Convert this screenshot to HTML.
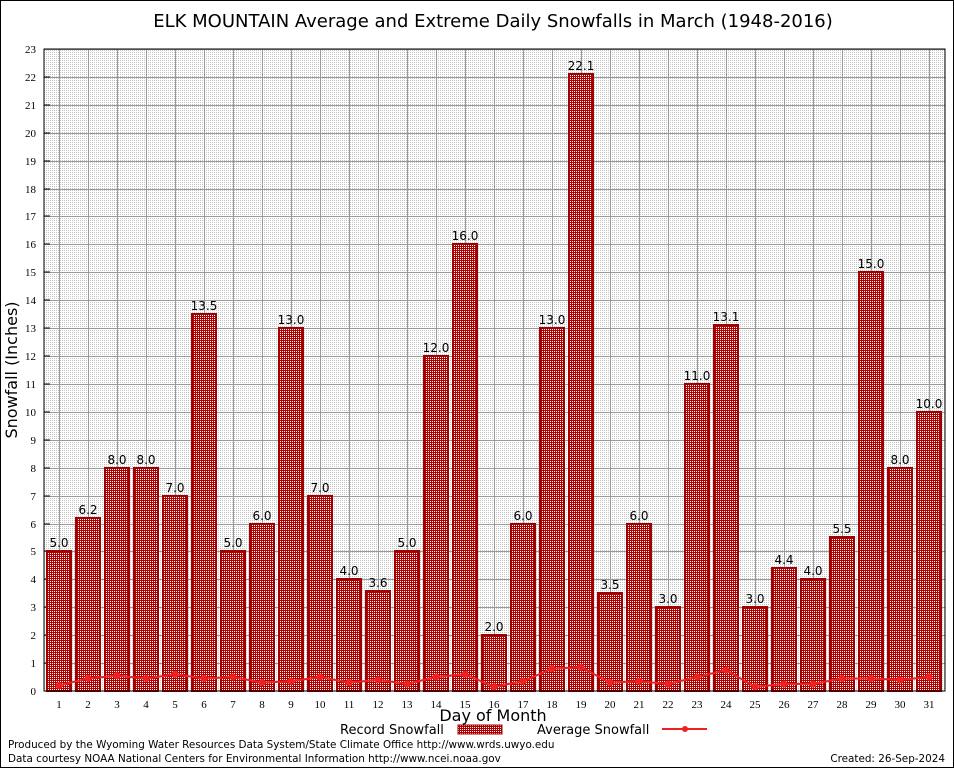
<!DOCTYPE html>
<html><head><meta charset="utf-8"><style>
body{margin:0;background:#fff;}
svg{display:block;font-family:"DejaVu Sans","Liberation Sans",sans-serif;}
</style></head><body>
<svg id="s" width="954" height="768" xmlns="http://www.w3.org/2000/svg" shape-rendering="crispEdges">
<defs>
<pattern id="bp" width="2" height="2" patternUnits="userSpaceOnUse">
<rect width="2" height="2" fill="#b00000"/><rect x="0" y="1" width="1" height="1" fill="#fff"/>
</pattern>
<pattern id="gp" width="2" height="2" patternUnits="userSpaceOnUse">
<rect width="2" height="2" fill="#fff"/><rect width="1" height="1" fill="#c4c4c4"/>
</pattern>
</defs>
<rect x="0.5" y="0.5" width="953" height="767" fill="#fff" stroke="#000"/>
<text x="493" y="27" font-size="18" text-anchor="middle">ELK MOUNTAIN Average and Extreme Daily Snowfalls in March (1948-2016)</text>
<rect x="44" y="49" width="901" height="642" fill="url(#gp)"/>
<g id="g"></g>
<rect x="44" y="49" width="901" height="642" fill="none" stroke="#000"/>
<text transform="translate(17,370) rotate(-90)" font-size="16" text-anchor="middle">Snowfall (Inches)</text>
<text x="493" y="721" font-size="16" text-anchor="middle">Day of Month</text>
<text x="340" y="734" font-size="13">Record Snowfall</text>
<rect x="458" y="725" width="44" height="9" fill="url(#bp)" stroke="#a00000"/>
<text x="537" y="734" font-size="13">Average Snowfall</text>
<line x1="662" y1="729" x2="707" y2="729" stroke="#f02020" stroke-width="2"/>
<circle cx="685" cy="729" r="3" fill="#f02020" shape-rendering="auto"/>
<text x="8" y="748" font-size="10.4">Produced by the Wyoming Water Resources Data System/State Climate Office http://www.wrds.uwyo.edu</text>
<text x="8" y="762" font-size="10.4">Data courtesy NOAA National Centers for Environmental Information http://www.ncei.noaa.gov</text>
<text x="945" y="762" font-size="10.4" text-anchor="end">Created:  26-Sep-2024</text>
</svg>
<script>
var rec=[5.0,6.2,8.0,8.0,7.0,13.5,5.0,6.0,13.0,7.0,4.0,3.6,5.0,12.0,16.0,2.0,6.0,13.0,22.1,3.5,6.0,3.0,11.0,13.1,3.0,4.4,4.0,5.5,15.0,8.0,10.0];
var avg=[0.2,0.45,0.55,0.45,0.6,0.45,0.5,0.3,0.35,0.5,0.3,0.4,0.25,0.5,0.6,0.15,0.35,0.8,0.85,0.3,0.35,0.25,0.5,0.75,0.15,0.25,0.25,0.45,0.45,0.4,0.5];
var h='',Y=function(v){return Math.round(691-v*27.913);},X=function(d){return 59+(d-1)*29;};
for(var i=1;i<=23;i++){h+='<line x1="44" x2="945" y1="'+(Y(i)+.5)+'" y2="'+(Y(i)+.5)+'" stroke="#999" stroke-width="1"/>';}
for(var d=1;d<=31;d++){h+='<line y1="49" y2="691" x1="'+(X(d)+.5)+'" x2="'+(X(d)+.5)+'" stroke="#999" stroke-width="1"/>';}
for(var i=0;i<=23;i++){h+='<text x="36" y="'+(Y(i)+4)+'" font-size="11" font-family="Liberation Serif,serif" text-anchor="end">'+i+'</text><line x1="44" x2="50" y1="'+Y(i)+'" y2="'+Y(i)+'" stroke="#000"/>';}
for(var d=1;d<=31;d++){var x=X(d);
h+='<rect x="'+(x-12)+'" y="'+Y(rec[d-1])+'" width="24" height="'+(691-Y(rec[d-1]))+'" fill="url(#bp)" stroke="#a00000" stroke-width="2"/>';
h+='<text x="'+x+'" y="'+(Y(rec[d-1])-4)+'" font-size="12" text-anchor="middle">'+rec[d-1].toFixed(1)+'</text>';
h+='<text x="'+x+'" y="708" font-size="11" font-family="Liberation Serif,serif" text-anchor="middle">'+d+'</text>';}
var p='';for(var d=1;d<=31;d++){p+=(d==1?'M':'L')+X(d)+','+(691-avg[d-1]*27.913);}
h+='<path d="'+p+'" fill="none" stroke="#f02020" stroke-width="2" shape-rendering="auto"/>';
for(var d=1;d<=31;d++)h+='<circle cx="'+X(d)+'" cy="'+(691-avg[d-1]*27.913)+'" r="3.5" fill="#f02020" shape-rendering="auto"/>';
document.getElementById('g').innerHTML=h;
</script>
</body></html>
